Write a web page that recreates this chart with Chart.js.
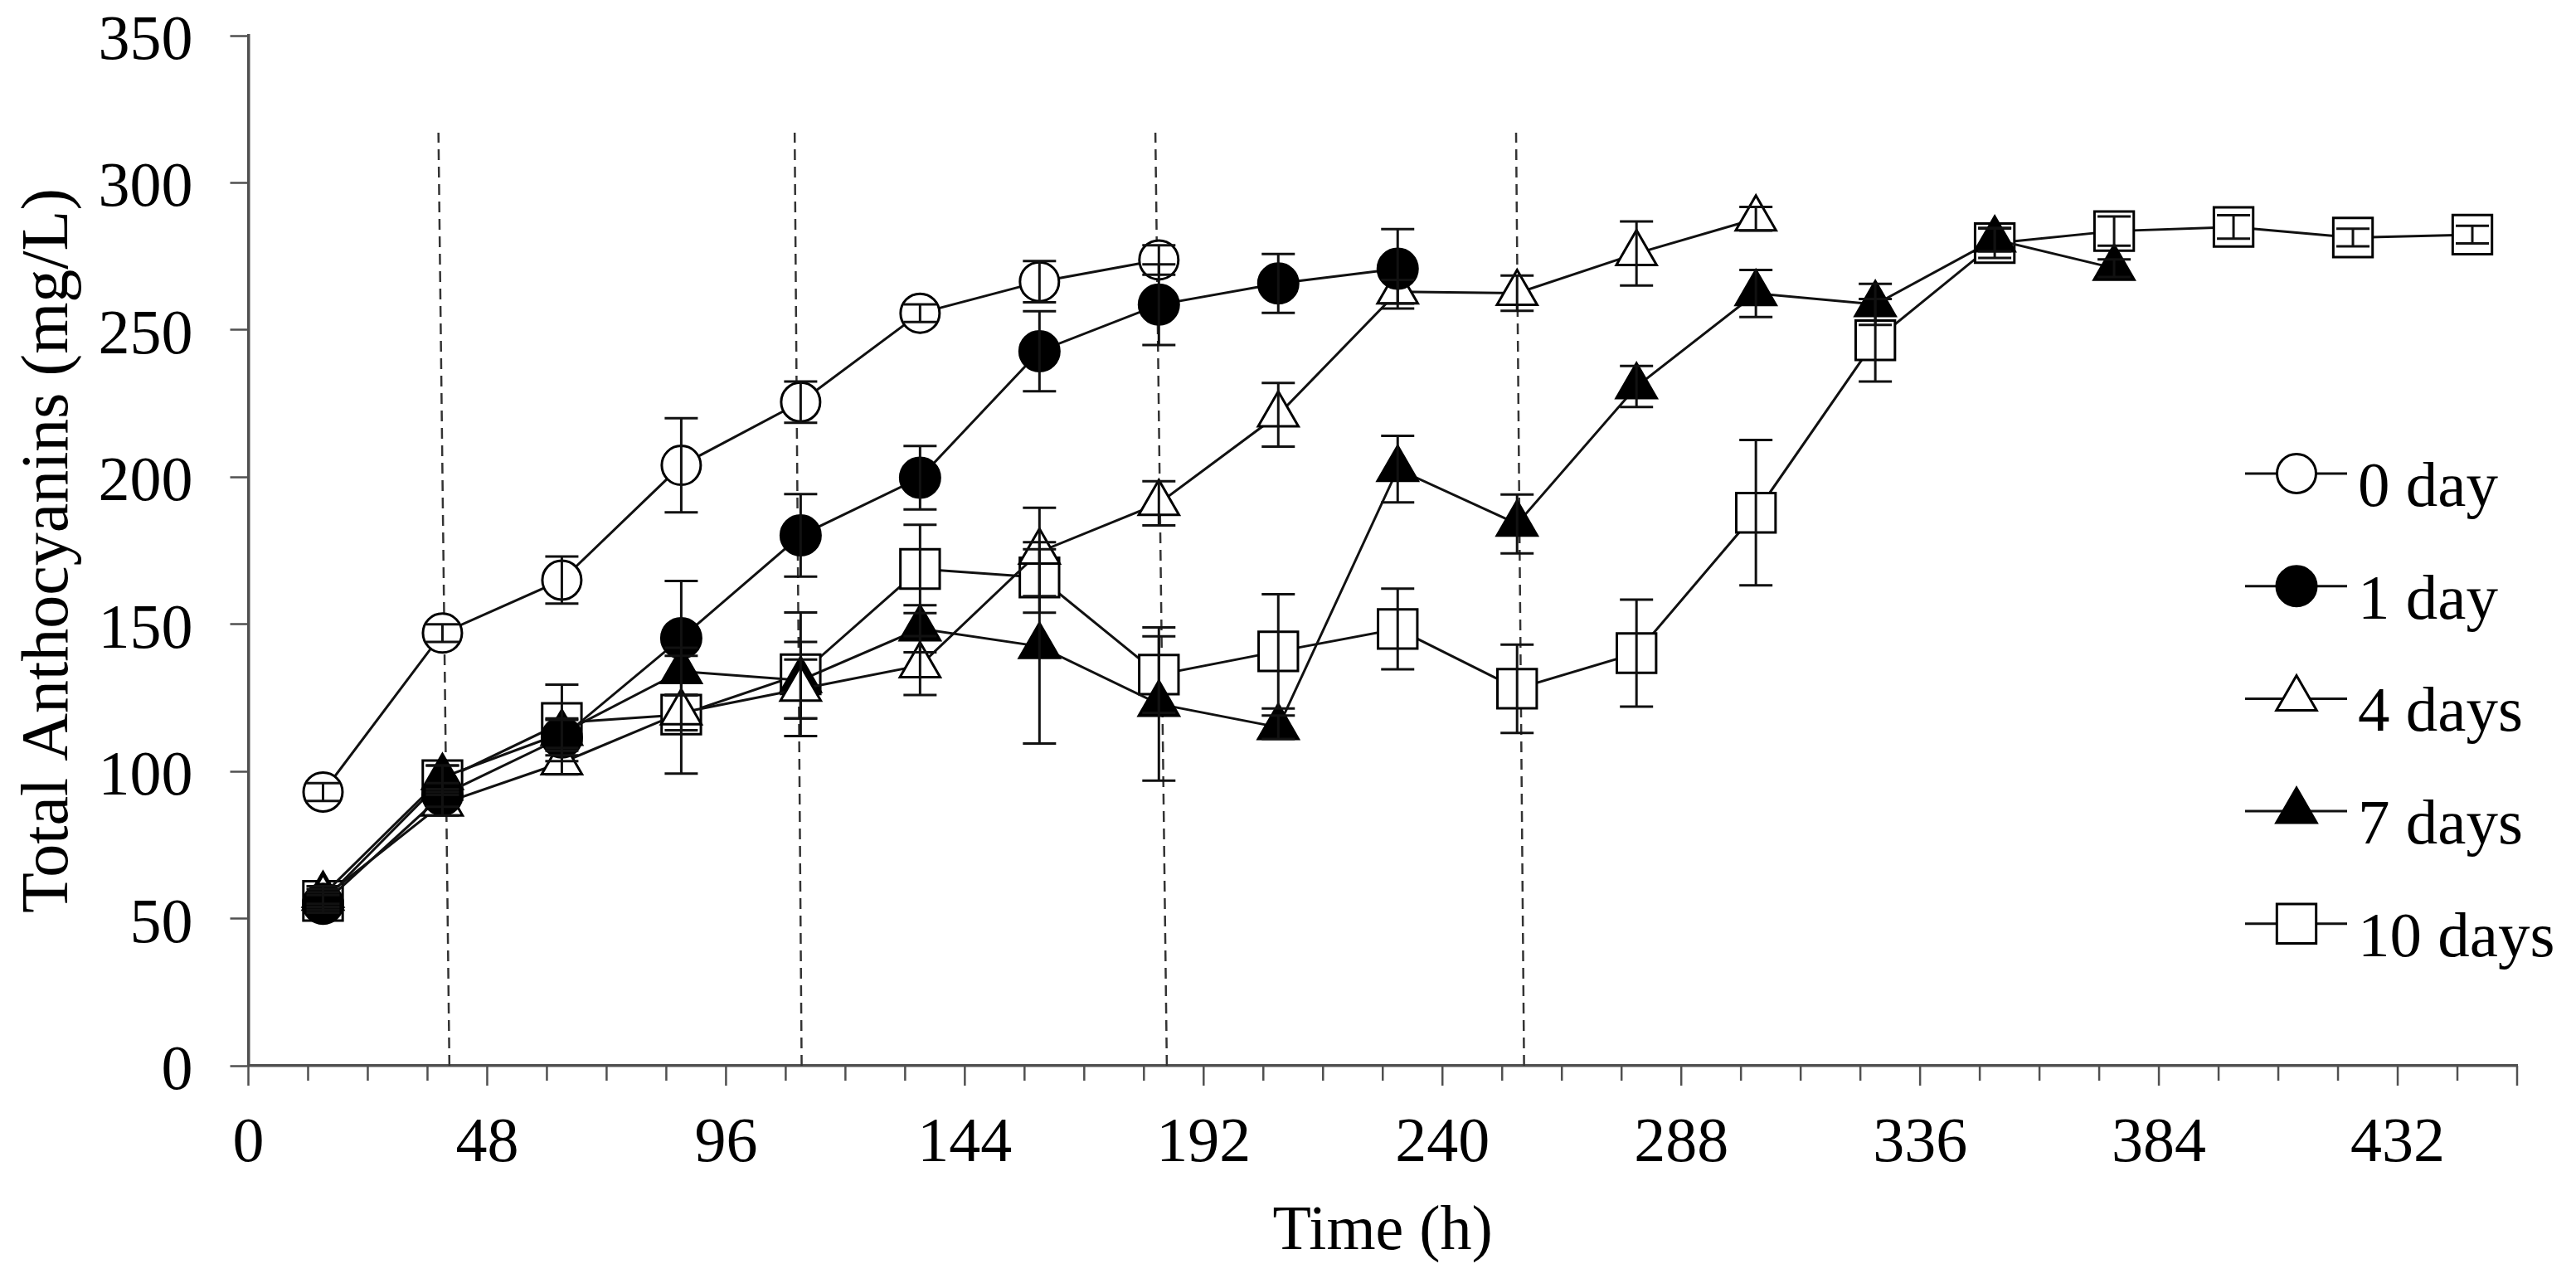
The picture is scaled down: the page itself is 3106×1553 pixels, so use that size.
<!DOCTYPE html>
<html>
<head>
<meta charset="utf-8">
<title>Total Anthocyanins vs Time</title>
<script src="https://cdn.jsdelivr.net/npm/chart.js@4.4.1/dist/chart.umd.min.js"></script>
<style>
  html, body { margin: 0; padding: 0; background: #fff; }
  #wrap { width: 3106px; height: 1553px; }
</style>
</head>
<body>
<div id="wrap"><canvas id="chart" width="3106" height="1553"></canvas></div>
<script>
(function () {
  'use strict';

  // sampling times (h)
  var times = [15, 39, 63, 87, 111, 135, 159, 183, 207, 231, 255, 279, 303, 327, 351, 375, 399, 423, 447];

  var seriesLabels = ['0 day', '1 day', '4 days', '7 days', '10 days'];

  // total anthocyanins (mg/L) and their error bars, one pair per treatment
  var day0 = [93, 147, 165, 204, 225.5, 255.7, 266.4, 273.8];
  var day0Err = [3, 3, 8, 16, 7, 3, 7, 5];

  var day1 = [55, 92, 111.5, 145.3, 180.2, 199.8, 242.8, 258.6, 265.8, 270.8];
  var day1Err = [3, 4, 6, 19.4, 14, 10.8, 13.6, 13.7, 10, 13.5];

  var day4 = [57, 89, 103, 120, 128, 136, 174.6, 191.1, 221.2, 263, 262.5, 276, 287.8];
  var day4Err = [3, 4, 4, 6, 10, 10, 15, 7.5, 10.8, 4, 6, 10.9, 4];

  var day7 = [58, 98, 113, 134, 131, 148.5, 142.5, 122.9, 115, 202.7, 184.1, 230.8, 262.4, 258.7, 280.7, 271];
  var day7Err = [3, 4, 5, 8, 13, 8, 33, 26, 4, 11.3, 10, 7, 8, 7, 4, 3];

  var day10 = [56, 97, 116.5, 119.3, 133, 168.8, 165.9, 132.9, 140.8, 148.4, 128.1, 140.2, 187.9, 246.5, 279.5, 283.6, 285, 281.4, 282.4];
  var day10Err = [3, 5, 13, 20, 21, 15, 12, 13, 19.4, 13.7, 15, 18.2, 24.7, 14, 5, 5, 4, 3, 3];

  // elicitation times (dashed markers), slightly slanted as in the scan
  var dashBottomX = [40.4, 111.2, 184.6, 256.4];
  var dashTopX = [38.2, 109.8, 182.3, 254.8];
  var dashTopY = 317;

  var FONT = '"Liberation Serif", "Times New Roman", serif';
  var INK = '#111111';
  var AXIS = '#505050';

  Chart.defaults.font.family = FONT;
  Chart.defaults.color = '#000';

  function pts(vals) {
    return vals.map(function (v, i) { return { x: times[i], y: v }; });
  }

  var styles = [
    { style: 'circle', r: 23.5, fill: '#ffffff' },
    { style: 'circle', r: 24, fill: '#000000' },
    { style: 'triangle', r: 28, fill: '#ffffff' },
    { style: 'triangle', r: 28, fill: '#000000' },
    { style: 'rect', r: 33.5, fill: '#ffffff' }
  ];
  var values = [day0, day1, day4, day7, day10];
  var errors = [day0Err, day1Err, day4Err, day7Err, day10Err];

  var datasets = values.map(function (vals, k) {
    return {
      label: seriesLabels[k],
      data: pts(vals),
      errs: errors[k],
      borderColor: INK,
      borderWidth: 3,
      pointStyle: styles[k].style,
      pointRadius: styles[k].r,
      pointHoverRadius: styles[k].r,
      pointBorderWidth: 3,
      pointBorderColor: '#000',
      pointBackgroundColor: styles[k].fill,
      tension: 0,
      clip: false
    };
  });

  dashBottomX.forEach(function (xb, i) {
    datasets.push({
      label: 'dash' + i,
      data: [{ x: xb, y: 0 }, { x: dashTopX[i], y: dashTopY }],
      borderColor: '#333333',
      borderWidth: 2.5,
      borderDash: [13, 8],
      pointRadius: 0,
      tension: 0
    });
  });

  function drawMarker(ctx, style, r, x, y) {
    ctx.beginPath();
    if (style === 'circle') {
      ctx.arc(x, y, r, 0, Math.PI * 2);
    } else if (style === 'triangle') {
      ctx.moveTo(x, y - r);
      ctx.lineTo(x + r * Math.sin(Math.PI * 2 / 3), y + r / 2);
      ctx.lineTo(x - r * Math.sin(Math.PI * 2 / 3), y + r / 2);
    } else {
      var s = r * Math.SQRT1_2;
      ctx.rect(x - s, y - s, 2 * s, 2 * s);
    }
    ctx.closePath();
    ctx.fill();
    ctx.stroke();
  }

  var errorBars = {
    id: 'errorBars',
    afterDatasetsDraw: function (chart) {
      var ctx = chart.ctx;
      var xs = chart.scales.x, ys = chart.scales.y;
      ctx.save();
      ctx.strokeStyle = INK;
      ctx.lineWidth = 3;
      chart.data.datasets.forEach(function (ds) {
        if (!ds.errs) return;
        ds.data.forEach(function (p, i) {
          var e = ds.errs[i];
          var px = xs.getPixelForValue(p.x);
          var top = ys.getPixelForValue(p.y + e);
          var bot = ys.getPixelForValue(p.y - e);
          ctx.beginPath();
          ctx.moveTo(px, top); ctx.lineTo(px, bot);
          ctx.moveTo(px - 20, top); ctx.lineTo(px + 20, top);
          ctx.moveTo(px - 20, bot); ctx.lineTo(px + 20, bot);
          ctx.stroke();
        });
      });
      ctx.restore();
    }
  };

  // shorter minor ticks every 12 h, longer ones at the labelled 48 h steps
  var xTickMarks = {
    id: 'xTickMarks',
    afterDraw: function (chart) {
      var ctx = chart.ctx;
      var xs = chart.scales.x;
      var y0 = chart.chartArea.bottom;
      ctx.save();
      ctx.strokeStyle = AXIS;
      ctx.lineWidth = 2.5;
      xs.ticks.forEach(function (t) {
        var px = xs.getPixelForValue(t.value);
        var len = t.value % 48 === 0 || t.value === xs.max ? 24 : 18;
        ctx.beginPath();
        ctx.moveTo(px, y0);
        ctx.lineTo(px, y0 + len);
        ctx.stroke();
      });
      ctx.restore();
    }
  };

  // legend drawn inside the plot, line through marker like the original
  var sideLegend = {
    id: 'sideLegend',
    afterDraw: function (chart) {
      var ctx = chart.ctx;
      var x0 = 2707, x1 = 2830, xm = 2769, xt = 2843;
      var row0 = 571, step = 135.7;
      ctx.save();
      seriesLabels.forEach(function (lab, k) {
        var y = row0 + k * step;
        ctx.strokeStyle = INK;
        ctx.lineWidth = 3;
        ctx.beginPath();
        ctx.moveTo(x0, y); ctx.lineTo(x1, y);
        ctx.stroke();
        ctx.fillStyle = styles[k].fill;
        ctx.strokeStyle = '#000';
        drawMarker(ctx, styles[k].style, styles[k].r, xm, y);
        ctx.fillStyle = '#000';
        ctx.font = '77px ' + FONT;
        ctx.textAlign = 'left';
        ctx.textBaseline = 'alphabetic';
        ctx.fillText(lab, xt, y + 39);
      });
      ctx.restore();
    }
  };

  new Chart(document.getElementById('chart').getContext('2d'), {
    type: 'line',
    data: { datasets: datasets },
    plugins: [errorBars, xTickMarks, sideLegend],
    options: {
      responsive: false,
      animation: false,
      devicePixelRatio: 1,
      events: [],
      layout: { padding: { top: 43, right: 71, left: 0, bottom: 0 }, autoPadding: false },
      plugins: {
        legend: { display: false },
        tooltip: { enabled: false }
      },
      scales: {
        x: {
          type: 'linear',
          min: 0,
          max: 456,
          afterFit: function (scale) {
            scale.height = 268;
            scale.paddingLeft = 0;
            scale.paddingRight = 0;
          },
          border: { display: true, color: AXIS, width: 3.5 },
          grid: { drawOnChartArea: false, drawTicks: false, tickLength: 24 },
          ticks: {
            stepSize: 12,
            autoSkip: false,
            maxRotation: 0,
            padding: 49,
            color: '#000',
            font: { size: 76 },
            callback: function (v) { return v % 48 === 0 ? String(v) : ''; }
          },
          title: {
            display: true,
            text: 'Time (h)',
            color: '#000',
            font: { size: 76 },
            padding: { top: 0, bottom: 21 }
          }
        },
        y: {
          min: 0,
          max: 350,
          afterFit: function (scale) {
            scale.width = 299.5;
            scale.paddingTop = 0;
            scale.paddingBottom = 0;
          },
          border: { display: true, color: AXIS, width: 3.5 },
          grid: { drawOnChartArea: false, drawTicks: true, tickLength: 22, tickColor: AXIS, tickWidth: 2.5 },
          ticks: {
            stepSize: 50,
            padding: 45,
            labelOffset: 8,
            color: '#000',
            font: { size: 76 }
          },
          title: {
            display: true,
            text: 'Total Anthocyanins (mg/L)',
            color: '#000',
            font: { size: 80 },
            padding: { top: 12, bottom: 0 }
          }
        }
      }
    }
  });
})();
</script>
</body>
</html>
